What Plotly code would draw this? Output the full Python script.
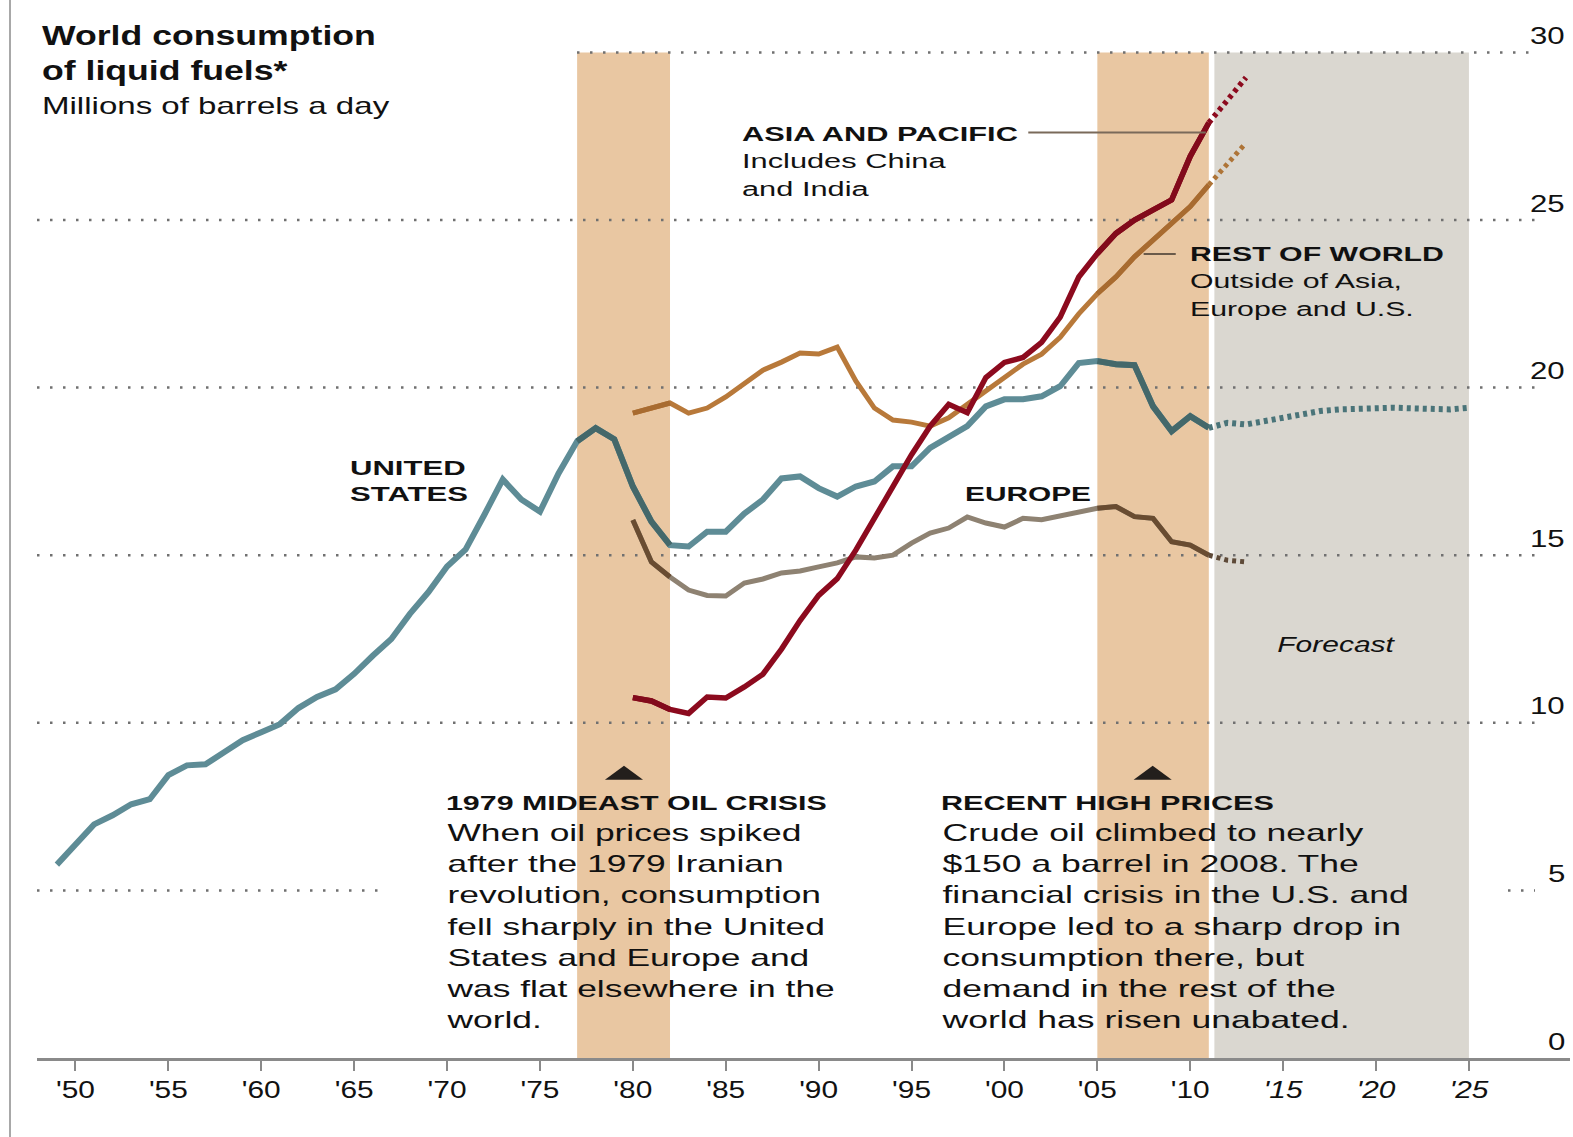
import json
import plotly.graph_objects as go

# ---------------- data ----------------
years_us = list(range(1949, 2012))
us = [5.77, 6.4, 6.97, 7.24, 7.57, 7.72, 8.44, 8.73, 8.76, 9.12,
      9.48, 9.72, 9.96, 10.44, 10.77, 11.0, 11.46, 12.0, 12.5, 13.25,
      13.9, 14.66, 15.17, 16.2, 17.26, 16.66, 16.3, 17.44, 18.4, 18.79,
      18.46, 17.05, 16.0, 15.3, 15.26, 15.7, 15.7, 16.24, 16.66, 17.29,
      17.35, 17.0, 16.75, 17.05, 17.2, 17.65, 17.65, 18.2, 18.55, 18.85,
      19.44, 19.65, 19.65, 19.74, 20.04, 20.73, 20.79, 20.7, 20.67, 19.44,
      18.7, 19.15, 18.8]

years_us_fc = list(range(2011, 2026))
us_fc = [18.8, 18.95, 18.9, 19.0, 19.1, 19.2, 19.3, 19.35, 19.38, 19.4,
         19.4, 19.38, 19.35, 19.35, 19.4]

years_reg = list(range(1980, 2012))
asia = [10.75, 10.65, 10.4, 10.28, 10.77, 10.74, 11.07, 11.45, 12.2, 13.05,
        13.8, 14.3, 15.15, 16.1, 17.0, 18.0, 18.85, 19.5, 19.25, 20.3,
        20.75, 20.9, 21.35, 22.1, 23.3, 24.0, 24.6, 25.0, 25.3, 25.6,
        26.9, 27.9]
rest_of_world = [19.24, 19.39, 19.54, 19.24, 19.39, 19.72, 20.13, 20.52, 20.76, 21.03,
                 21.0, 21.21, 20.2, 19.39, 19.03, 18.97, 18.85, 19.1, 19.5, 19.9,
                 20.3, 20.7, 21.0, 21.5, 22.2, 22.8, 23.3, 23.9, 24.4, 24.9,
                 25.4, 26.05]
europe = [16.05, 14.8, 14.35, 13.96, 13.8, 13.78, 14.17, 14.29, 14.47, 14.53,
          14.65, 14.77, 14.95, 14.92, 15.0, 15.36, 15.66, 15.81, 16.14, 15.96,
          15.84, 16.1, 16.06, 16.18, 16.3, 16.4, 16.45, 16.15, 16.1, 15.4,
          15.3, 15.0]

years_reg_fc = [2011, 2012, 2013]
asia_fc = [27.9, 28.55, 29.25]
rest_of_world_fc = [26.05, 26.7, 27.3]
europe_fc = [15.0, 14.85, 14.8]

event_bands = [(1977, 1982), (2005, 2011)]
forecast_band = (2011.3, 2025)

tick_years = list(range(1950, 2030, 5))
tick_text = ["'50", "'55", "'60", "'65", "'70", "'75", "'80", "'85", "'90",
             "'95", "'00", "'05", "'10", "<i>'15</i>", "<i>'20</i>", "<i>'25</i>"]
y_tick_vals = [0, 5, 10, 15, 20, 25, 30]
y_tick_text = ["0", "5", "10", "15", "20", "25", "30"]

# ---------------- style ----------------
FONT = "Liberation Sans, Arial, Helvetica, sans-serif"
TXT = "#111111"
C_US, C_US_B, C_US_F = "#5E8C96", "#44686A", "#4A7479"
C_AS, C_AS_B, C_AS_F = "#8C0A1E", "#820A1B", "#8C0A1E"
C_RW, C_RW_B, C_RW_F = "#B8793A", "#A86B30", "#AE7437"
C_EU, C_EU_B, C_EU_F = "#8E8272", "#694C31", "#5E4A38"
BAND = "#E9C7A2"
FCAST = "#DAD7D0"

W, H = 1573, 1137
L, R_EDGE, BOTTOM = 37, 1570, 1058
PW = R_EDGE - L
X_RANGE = [1947.93, 2030.44]


def X(xs):
    """shrunk-reference x pixel -> paper x"""
    return (xs * 1.0032 - L) / PW


def Y(ys):
    """shrunk-reference y pixel -> paper y"""
    return (BOTTOM - ys * 1.0035) / BOTTOM


def XD(xp):
    """full pixel x -> x data (for layout decorations)"""
    return X_RANGE[0] + (xp - L) / PW * (X_RANGE[1] - X_RANGE[0])


def band_only(years, vals):
    return [v if any(a <= y <= b for a, b in event_bands) else None
            for y, v in zip(years, vals)]


fig = go.Figure()

series = [
    (years_us, us, years_us_fc, us_fc, C_US, C_US_B, C_US_F, 6),
    (years_reg, europe, years_reg_fc, europe_fc, C_EU, C_EU_B, C_EU_F, 5),
    (years_reg, rest_of_world, years_reg_fc, rest_of_world_fc, C_RW, C_RW_B, C_RW_F, 5),
    (years_reg, asia, years_reg_fc, asia_fc, C_AS, C_AS_B, C_AS_F, 5.5),
]
for yrs, vals, fyrs, fvals, c, cb, cf, w in series:
    fig.add_trace(go.Scatter(x=yrs, y=vals, mode="lines",
                             line=dict(color=c, width=w), hoverinfo="skip"))
    fig.add_trace(go.Scatter(x=yrs, y=band_only(yrs, vals), mode="lines",
                             line=dict(color=cb, width=w), hoverinfo="skip"))
    fig.add_trace(go.Scatter(x=fyrs, y=fvals, mode="lines",
                             line=dict(color=cf, width=w, dash="4px,4px"),
                             hoverinfo="skip"))

shapes = []
for a, b in event_bands:
    shapes.append(dict(type="rect", xref="x", yref="y", x0=a, x1=b, y0=0, y1=30,
                       fillcolor=BAND, line=dict(width=0), layer="below"))
shapes.append(dict(type="rect", xref="x", yref="y", x0=forecast_band[0],
                   x1=forecast_band[1], y0=0, y1=30,
                   fillcolor=FCAST, line=dict(width=0), layer="below"))

grid_style = dict(color="#707070", width=2.5, dash="2.5px,10.5px")
for v in y_tick_vals[1:]:
    if v == 30:
        segs = [(577, 1535)]
    elif v == 5:
        segs = [(37, 380), (1508, 1535)]
    else:
        segs = [(37, 1535)]
    for x0, x1 in segs:
        shapes.append(dict(type="line", xref="x", yref="y",
                           x0=XD(x0), x1=XD(x1), y0=v, y1=v,
                           line=grid_style, layer="between"))

# left border
shapes.append(dict(type="line", xref="paper", yref="paper",
                   x0=(10 - L) / PW, x1=(10 - L) / PW, y0=-79 / BOTTOM, y1=1.0,
                   line=dict(color="#a8a8a8", width=2)))
# leader lines
shapes.append(dict(type="line", xref="paper", yref="paper",
                   x0=X(1025), x1=X(1202), y0=Y(132), y1=Y(132),
                   line=dict(color="#7a6a5a", width=2)))
shapes.append(dict(type="line", xref="paper", yref="paper",
                   x0=X(1140), x1=X(1172), y0=Y(253), y1=Y(253),
                   line=dict(color="#6a5a4a", width=2)))
# arrow triangles
for cx in (622, 1149):
    path = "M {} {} L {} {} L {} {} Z".format(
        X(cx - 19), Y(777), X(cx + 19), Y(777), X(cx), Y(763))
    shapes.append(dict(type="path", xref="paper", yref="paper", path=path,
                       fillcolor="#231f1c", line=dict(width=0)))

annotations = []
widths = []


def note(text, xs, ys, size, target, xanchor="left", italic=False, align="left"):
    annotations.append(dict(
        text=text, xref="paper", yref="paper", x=X(xs), y=Y(ys),
        xanchor=xanchor, yanchor="middle", showarrow=False, align=align,
        font=dict(family=FONT, size=size, color=TXT,
                  style="italic" if italic else "normal")))
    widths.append(target)


note("<b>World consumption<br>of liquid fuels*</b>", 40, 53, 27, 334)
note("Millions of barrels a day", 40, 106, 23, 348)
note("<b>ASIA AND PACIFIC</b><br>Includes China<br>and India", 738, 160, 21, 276)
note("<b>REST OF WORLD</b><br>Outside of Asia,<br>Europe and U.S.", 1184, 280, 21, 254)
note("<b>UNITED<br>STATES</b>", 347, 479, 20, 118)
note("<b>EUROPE</b>", 960, 492, 21, 126)
note("Forecast", 1332, 642, 22, 118, xanchor="center", italic=True)
note("<b>1979 MIDEAST OIL CRISIS</b>", 443, 800, 20, 381)
note("When oil prices spiked<br>after the 1979 Iranian<br>revolution, consumption<br>"
     "fell sharply in the United<br>States and Europe and<br>was flat elsewhere in the<br>world.",
     443, 923, 24, 389)
note("<b>RECENT HIGH PRICES</b>", 936, 800, 20, 333)
note("Crude oil climbed to nearly<br>$150 a barrel in 2008. The<br>financial crisis in the U.S. and<br>"
     "Europe led to a sharp drop in<br>consumption there, but<br>demand in the rest of the<br>"
     "world has risen unabated.",
     936, 923, 24, 468)

for v, t in zip(y_tick_vals, y_tick_text):
    annotations.append(dict(
        text=t, xref="paper", yref="y", x=X(1562), y=v, yshift=17,
        xanchor="right", yanchor="middle", showarrow=False,
        font=dict(family=FONT, size=24, color=TXT)))
    widths.append(-1.3)

fig.update_layout(
    width=W, height=H,
    margin=dict(l=L, r=W - R_EDGE, t=0, b=H - BOTTOM, pad=0),
    paper_bgcolor="white", plot_bgcolor="rgba(0,0,0,0)",
    showlegend=False, hovermode=False,
    shapes=shapes, annotations=annotations,
    xaxis=dict(range=X_RANGE, showgrid=False, zeroline=False,
               showline=True, linecolor="#8a8a8a", linewidth=2.5,
               ticks="outside", ticklen=10, tickwidth=2, tickcolor="#8a8a8a",
               tickvals=tick_years, ticktext=tick_text,
               tickfont=dict(family=FONT, size=23, color=TXT)),
    yaxis=dict(range=[0, BOTTOM / 33.52], showgrid=False, zeroline=False,
               showline=False, showticklabels=False, ticks=""),
)

post = """
document.body.style.margin = '0';
var gd = document.getElementById('{plot_id}');
var WID = %s;
function stretch(t, s, anc) {
  var bb = t.getBBox();
  var ox = anc === 'left' ? bb.x : (anc === 'right' ? bb.x + bb.width : bb.x + bb.width / 2);
  var old = t.getAttribute('transform') || '';
  t.setAttribute('transform', old + ' translate(' + ox + ',0) scale(' + s + ',1) translate(' + (-ox) + ',0)');
}
gd.querySelectorAll('g.annotation').forEach(function (g) {
  var i = +g.getAttribute('data-index');
  var t = g.querySelector('text.annotation-text');
  if (!t) return;
  var spec = WID[i];
  var bb = t.getBBox();
  var s = spec > 0 ? spec / bb.width : -spec;
  stretch(t, s, gd.layout.annotations[i].xanchor);
});
gd.querySelectorAll('.xtick text').forEach(function (t) { stretch(t, 1.3, 'center'); });
""" % json.dumps(widths)

fig.write_html("out.html", post_script=post,
               config={"displayModeBar": False, "staticPlot": True})
